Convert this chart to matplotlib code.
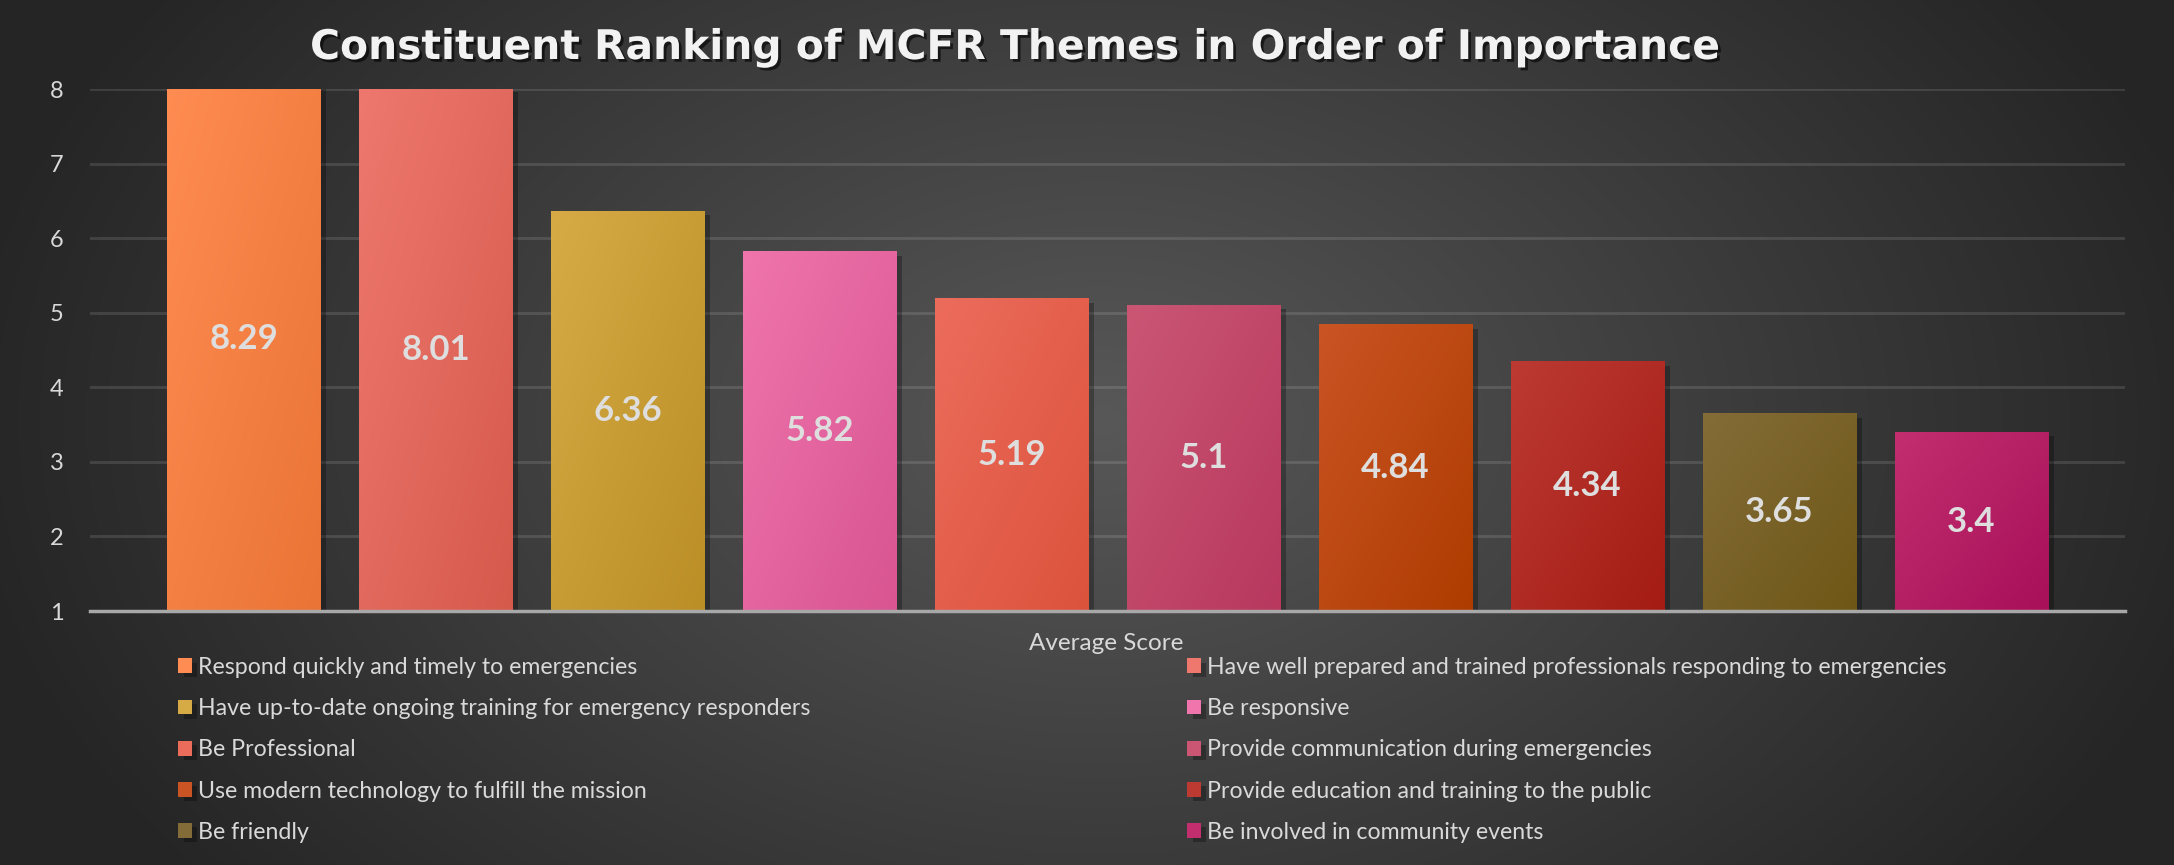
import numpy as np
import matplotlib
matplotlib.use("Agg")
import matplotlib.pyplot as plt
import matplotlib.patheffects as pe
from matplotlib.colors import to_rgb

plt.rcParams["font.family"] = ["Lato", "DejaVu Sans"]

# chart data
themes = [
    "Respond quickly and timely to emergencies",
    "Have well prepared and trained professionals responding to emergencies",
    "Have up-to-date ongoing training for emergency responders",
    "Be responsive",
    "Be Professional",
    "Provide communication during emergencies",
    "Use modern technology to fulfill the mission",
    "Provide education and training to the public",
    "Be friendly",
    "Be involved in community events",
]
scores = [8.29, 8.01, 6.36, 5.82, 5.19, 5.1, 4.84, 4.34, 3.65, 3.4]
# (light top-left, dark bottom-right) gradient colours for each bar
light_cols = ["#FF8C52", "#EE786E", "#D6AA45", "#F075AC", "#EC6C5C",
              "#CA5674", "#CA5424", "#BC3A32", "#846C38", "#C22E6E"]
dark_cols = ["#EA7436", "#D65A4C", "#BB8F26", "#D85592", "#DC533C",
             "#B8385E", "#AE3C00", "#A41C14", "#6E5716", "#A8105A"]
y_ticks = [1, 2, 3, 4, 5, 6, 7, 8]
title = "Constituent Ranking of MCFR Themes in Order of Importance"
x_label = "Average Score"

W, H = 2174, 865
fig = plt.figure(figsize=(W / 100, H / 100), dpi=100)

# radial background
bg = fig.add_axes([0, 0, 1, 1], zorder=-10)
yy, xx = np.mgrid[0:H, 0:W]
r = np.sqrt(((xx - 1100) / 1150.0) ** 2 + ((yy - 420) / 760.0) ** 2)
r = np.clip(r, 0, 1)
dark = np.array(to_rgb("#252525"))
light = np.array(to_rgb("#585858"))
img = light[None, None, :] * (1 - r[..., None]) + dark[None, None, :] * r[..., None]
bg.imshow(img, aspect="auto", extent=[0, 1, 0, 1], interpolation="bilinear")
bg.set_axis_off()

ax = fig.add_axes([90 / W, 1 - 611 / H, (2125 - 90) / W, (611 - 89) / H])
ax.patch.set_alpha(0)

x = np.arange(len(scores))
vals = np.array(scores)
bars = ax.bar(x, vals - y_ticks[0], bottom=y_ticks[0], width=0.8,
              color=[c for c in light_cols], zorder=2,
              path_effects=[pe.SimplePatchShadow(offset=(4, -3), shadow_rgbFace="black", alpha=0.28),
                            pe.Normal()])

# gradient fill clipped to each bar
g = np.linspace(0, 1, 60)
gx, gy = np.meshgrid(g, g)
t = (gx + gy) / 2.0
for b, c1, c2 in zip(bars, light_cols, dark_cols):
    a1 = np.array(to_rgb(c1))
    a2 = np.array(to_rgb(c2))
    grad = a1[None, None, :] * (1 - t[..., None]) + a2[None, None, :] * t[..., None]
    x0, y0 = b.get_x(), b.get_y()
    im = ax.imshow(grad, extent=[x0, x0 + b.get_width(), y0, y0 + b.get_height()],
                   aspect="auto", zorder=3, interpolation="bilinear")
    im.set_clip_path(b)
    im.set_clip_box(ax.bbox)
    b.set_facecolor(c1)
    b.set_clip_box(ax.bbox)

# value labels at centre of each bar
for xi, v in zip(x, scores):
    ax.text(xi, (y_ticks[0] + v) / 2, f"{v:g}", ha="center", va="center",
            fontsize=25, fontweight="bold", color="#DEDEDE", zorder=5)

ax.set_xlim(-0.8, len(scores) - 0.2)
ax.set_ylim(y_ticks[0], y_ticks[-1])
ax.set_yticks(y_ticks)
ax.set_xticks([])
ax.tick_params(axis="y", length=0, labelsize=17, labelcolor="#D9D9D9", pad=19)
ax.yaxis.grid(True, color="white", alpha=0.12, lw=2)
ax.set_axisbelow(True)
for s in ["top", "right", "left"]:
    ax.spines[s].set_visible(False)
ax.spines["bottom"].set_color("#A8A8A8")
ax.spines["bottom"].set_linewidth(2.5)
ax.spines["bottom"].set_zorder(6)

fig.text(1106 / W, 1 - 643 / H, x_label, ha="center", va="center",
         fontsize=17.5, color="#D9D9D9")

fig.text(1016 / W, 1 - 48 / H, title, ha="center", va="center",
         fontsize=29.4, fontweight="bold", color="#F2F2F2", family="DejaVu Sans",
         path_effects=[pe.SimplePatchShadow(offset=(2, -2), shadow_rgbFace="black", alpha=0.6),
                       pe.Normal()])

# legend as two row-major columns
handles = list(bars)
leg_kw = dict(loc="upper left", frameon=False, fontsize=16.7, labelcolor="#D9D9D9",
              handlelength=0.6, handleheight=0.6, handletextpad=0.25,
              labelspacing=0.87, borderpad=0, borderaxespad=0)
l1 = fig.legend(handles[0::2], themes[0::2], bbox_to_anchor=(178 / W, 1 - 657 / H), **leg_kw)
l2 = fig.legend(handles[1::2], themes[1::2], bbox_to_anchor=(1187 / W, 1 - 657 / H), **leg_kw)

fig.savefig("out.png", dpi=100)
